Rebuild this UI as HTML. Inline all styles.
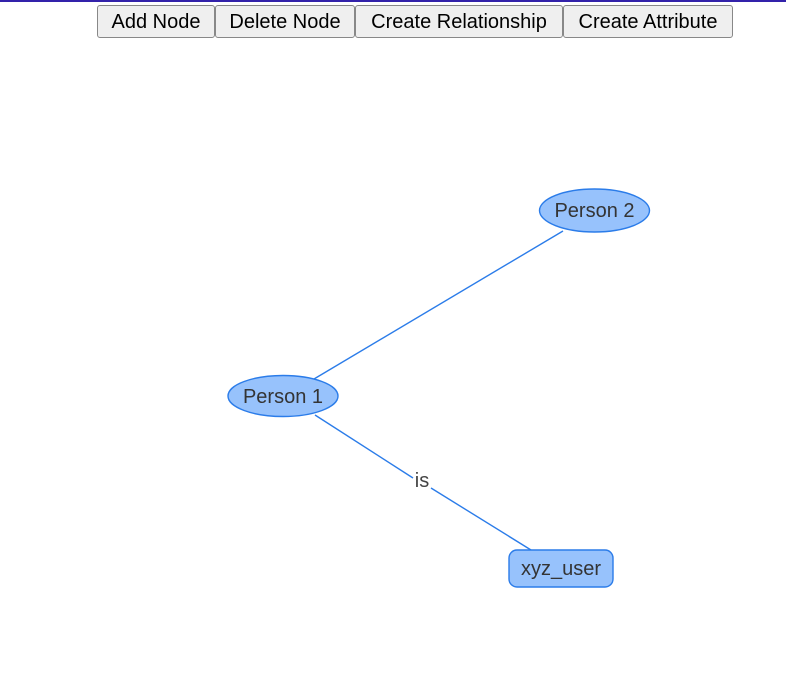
<!DOCTYPE html>
<html><head><meta charset="utf-8">
<style>
html,body{margin:0;padding:0;background:#fff;width:786px;height:679px;overflow:hidden;font-family:"Liberation Sans",Arial,sans-serif;}
.bar{position:absolute;left:0;top:0;width:786px;height:2px;background:#3322aa;}
.btn{position:absolute;top:5px;height:33px;box-sizing:border-box;border:1px solid #888;border-radius:3px;background:#efefef;font-size:20px;color:#000;line-height:32px;text-align:center;}
svg{position:absolute;left:0;top:0;}
</style></head><body>
<div class="bar"></div>
<div class="btn" style="left:97px;width:118px;">Add Node</div>
<div class="btn" style="left:215px;width:140px;">Delete Node</div>
<div class="btn" style="left:355px;width:208px;">Create Relationship</div>
<div class="btn" style="left:563px;width:170px;">Create Attribute</div>
<svg width="786" height="679" xmlns="http://www.w3.org/2000/svg" font-family="Liberation Sans, Arial, sans-serif">
<line x1="563" y1="231" x2="314" y2="379" stroke="#2b7ce9" stroke-width="1.4"/>
<line x1="315" y1="415" x2="413" y2="478" stroke="#2b7ce9" stroke-width="1.4"/>
<line x1="431" y1="488" x2="531" y2="550" stroke="#2b7ce9" stroke-width="1.4"/>
<text x="422" y="487" font-size="20" fill="#444" text-anchor="middle">is</text>
<ellipse cx="594.5" cy="210.5" rx="55" ry="21.5" fill="#97c2fc" stroke="#2b7ce9" stroke-width="1.4"/>
<text x="594.5" y="217" font-size="20" fill="#343434" text-anchor="middle">Person 2</text>
<ellipse cx="283" cy="396" rx="55" ry="20.5" fill="#97c2fc" stroke="#2b7ce9" stroke-width="1.4"/>
<text x="283" y="403" font-size="20" fill="#343434" text-anchor="middle">Person 1</text>
<rect x="509" y="550" width="104" height="37" rx="8" fill="#97c2fc" stroke="#2b7ce9" stroke-width="1.4"/>
<text x="561" y="575" font-size="20" fill="#343434" text-anchor="middle">xyz_user</text>
</svg>
</body></html>
